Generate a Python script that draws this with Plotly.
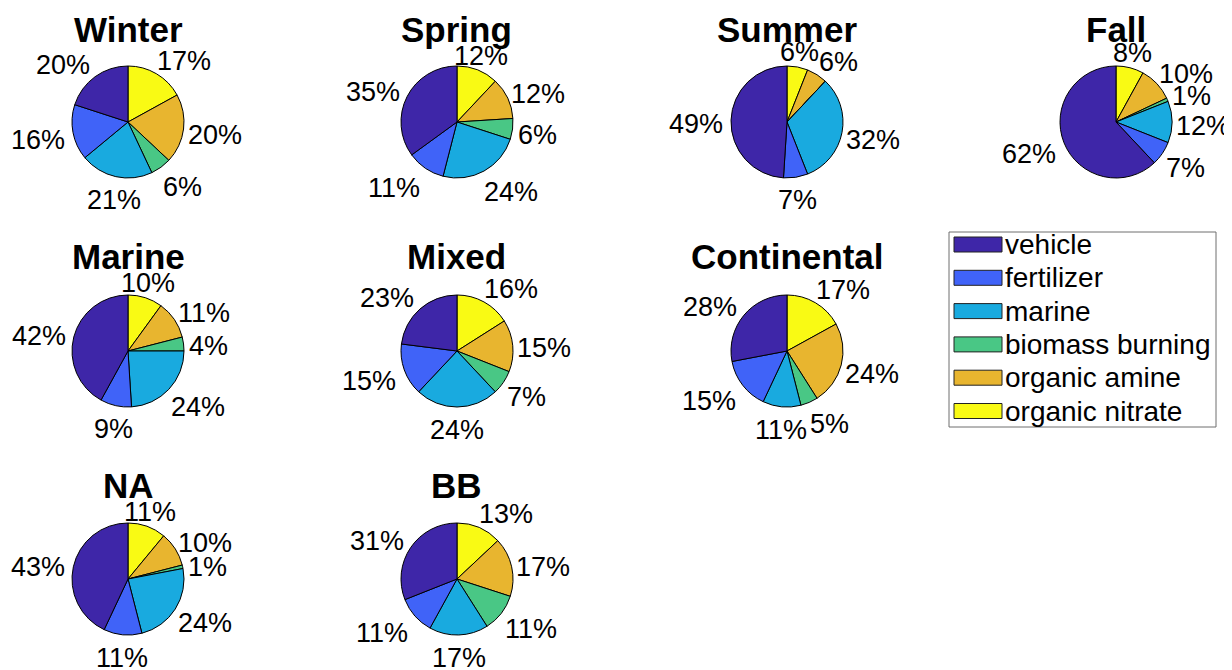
import math
import plotly.graph_objects as go

W, H = 1232, 670          # browser window
PAGE_MARGIN = 8           # default body margin of the html page
FW, FH = W - PAGE_MARGIN, H - PAGE_MARGIN

# ---- data -------------------------------------------------------------
sources = ["vehicle", "fertilizer", "marine", "biomass burning",
           "organic amine", "organic nitrate"]
colors = ["#3E26A8", "#4063F8", "#19AADF", "#49C785", "#E8B52F", "#F9FA14"]

panels = ["Winter", "Spring", "Summer", "Fall",
          "Marine", "Mixed", "Continental", "NA", "BB"]

winter = [20, 16, 21, 6, 20, 17]
spring = [35, 11, 24, 6, 12, 12]
summer = [49, 7, 32, 0, 6, 6]
fall = [62, 7, 12, 1, 10, 8]
marine = [42, 9, 24, 4, 11, 10]
mixed = [23, 15, 24, 7, 15, 16]
continental = [28, 15, 11, 5, 24, 17]
na = [43, 11, 24, 1, 10, 11]
bb = [31, 11, 17, 11, 17, 13]
values = [winter, spring, summer, fall, marine, mixed, continental, na, bb]

# ---- layout constants (screen pixels) -----------------------------------
grid = [(0, 0), (1, 0), (2, 0), (3, 0), (0, 1), (1, 1), (2, 1), (0, 2), (1, 2)]
col_x = [128, 457, 787, 1116]
row_y = [122, 351, 579]
title_y = [29, 256, 485]
R = 56
FONT = "Liberation Sans, Arial, Helvetica, sans-serif"
LABEL_SIZE = 27
TITLE_SIZE = 35
LEGEND_SIZE = 28


def px(x):
    return (x - PAGE_MARGIN) / FW


def py(y):
    return 1 - (y - PAGE_MARGIN) / FH


fig = go.Figure()
annotations = []

for name, vals, (c, r) in zip(panels, values, grid):
    cx, cy = col_x[c], row_y[r]
    # clockwise from 12 o'clock with the list reversed == counter-clockwise
    # from 12 o'clock in the original order (MATLAB pie convention)
    fig.add_trace(go.Pie(
        values=vals[::-1], labels=sources[::-1], sort=False,
        direction="clockwise", rotation=0,
        marker=dict(colors=colors[::-1], line=dict(color="black", width=1)),
        textinfo="none", hoverinfo="label+percent", showlegend=False,
        domain=dict(x=[px(cx - R), px(cx + R)], y=[py(cy + R), py(cy - R)]),
    ))
    annotations.append(dict(
        text=f"<b>{name}</b>", x=px(cx), y=py(title_y[r]),
        xref="paper", yref="paper", showarrow=False,
        xanchor="center", yanchor="middle",
        font=dict(family=FONT, size=TITLE_SIZE, color="black")))
    total = sum(vals)
    cum = 0
    for v in vals:
        if v > 0:
            a = math.radians(90 + 360 * (cum + v / 2) / total)
            txt = f"{round(100 * v / total)}%"
            w = LABEL_SIZE * (0.556 * (len(txt) - 1) + 0.889)
            R1 = 1.15 * R
            ca, sa = math.cos(a), math.sin(a)
            # labels within 22.5 deg of vertical are centred, others are
            # pushed sideways (left / right aligned)
            g = 1.0 if abs(ca) > 0.383 else 0.0
            g *= 0.85 if ca > 0 else 1.0
            dx = R1 * ca + (w / 2) * g * (1 if ca > 0 else -1)
            dy = R1 * sa + 11 * sa - 4
            annotations.append(dict(
                text=txt, x=px(cx + dx), y=py(cy - dy),
                xref="paper", yref="paper", showarrow=False,
                xanchor="center", yanchor="middle",
                font=dict(family=FONT, size=LABEL_SIZE, color="black")))
        cum += v

# ---- legend (built from sources / colors) -------------------------------
lg_x0, lg_y0, lg_x1, lg_y1 = 949, 232, 1216, 427
sw_x0, sw_x1 = 954, 1002
row_h = 33.3
first_c = 244.5
shapes = [dict(type="rect", xref="paper", yref="paper",
               x0=px(lg_x0), x1=px(lg_x1), y0=py(lg_y1), y1=py(lg_y0),
               line=dict(color="#6f6f6f", width=1), fillcolor="white")]
for k, (s, col) in enumerate(zip(sources, colors)):
    yc = first_c + k * row_h
    shapes.append(dict(type="rect", xref="paper", yref="paper",
                       x0=px(sw_x0), x1=px(sw_x1),
                       y0=py(yc + 7.5), y1=py(yc - 7.5),
                       line=dict(color="#222222", width=1), fillcolor=col))
    annotations.append(dict(
        text=s, x=px(1003), y=py(yc), xref="paper", yref="paper",
        showarrow=False, xanchor="left", yanchor="middle",
        font=dict(family=FONT, size=LEGEND_SIZE, color="black")))

fig.update_layout(
    width=FW, height=FH, margin=dict(l=0, r=0, t=0, b=0),
    paper_bgcolor="white", plot_bgcolor="white",
    annotations=annotations, shapes=shapes, showlegend=False,
)
fig.write_html("out.html")
